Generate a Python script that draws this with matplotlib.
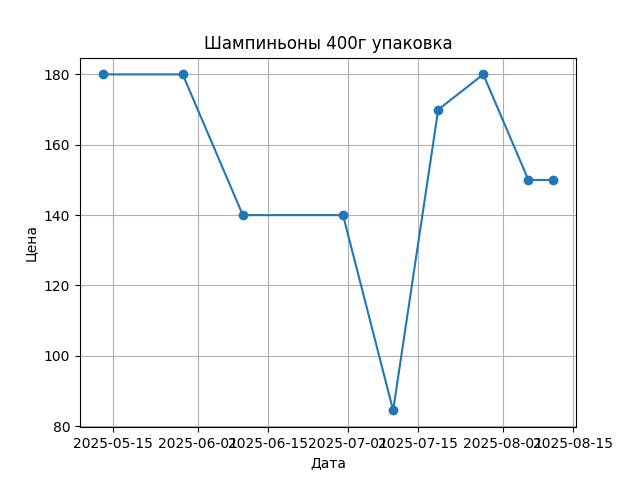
import matplotlib
matplotlib.use("Agg")
import matplotlib.pyplot as plt
import pandas as pd

# данные
dates = ["2025-05-13", "2025-05-29", "2025-06-10", "2025-06-30", "2025-07-10",
         "2025-07-19", "2025-07-28", "2025-08-06", "2025-08-11"]
prices = [180, 180, 140, 140, 84.5, 170, 180, 150, 150]

dates = pd.to_datetime(dates)

fig, ax = plt.subplots(figsize=(6.4, 4.8), dpi=100)
ax.plot(dates, prices, marker="o")
ax.set_title("Шампиньоны 400г упаковка")
ax.set_xlabel("Дата")
ax.set_ylabel("Цена")
ax.grid(True)

plt.savefig("out.png")
